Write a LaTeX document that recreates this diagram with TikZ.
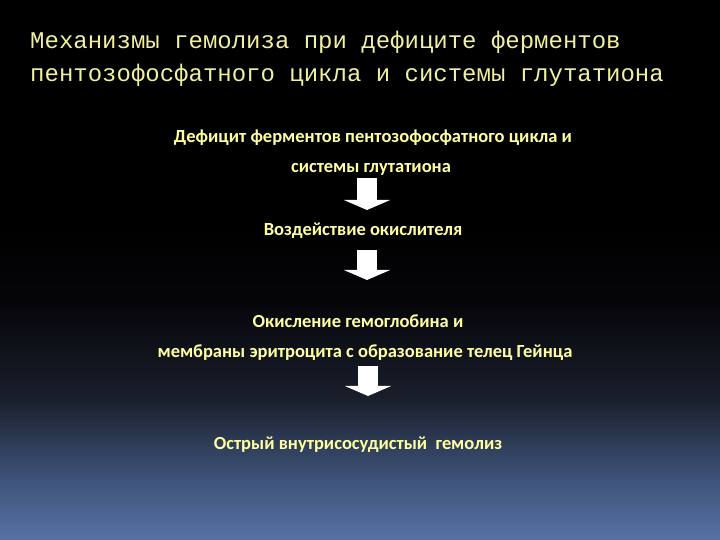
\documentclass[tikz,border=0pt]{standalone}
\usepackage{fontspec}
\setmainfont{Carlito}
\newfontfamily\titlefont{Liberation Mono}
\usetikzlibrary{arrows.meta}
\definecolor{bgbot}{RGB}{86,113,163}
\definecolor{bgq}{RGB}{58,78,114}
\definecolor{bgm}{RGB}{26,31,44}
\definecolor{bgd}{RGB}{6,6,10}
\definecolor{titlecol}{RGB}{240,240,160}
\definecolor{txtcol}{RGB}{255,255,160}
\pgfdeclareverticalshading{bgshade}{100bp}{color(0bp)=(bgbot); color(25bp)=(bgbot); color(31.5bp)=(bgq); color(38bp)=(bgm); color(47bp)=(bgd); color(54bp)=(black); color(100bp)=(black)}
\tikzset{
  titletxt/.style={anchor=base west, inner sep=0pt, text=titlecol, font=\titlefont\fontsize{24}{28}\selectfont},
  bodytxt/.style={anchor=base, inner sep=0pt, text=txtcol, font=\bfseries\fontsize{18.5}{22}\selectfont},
  blockarrow/.style={draw=white, line width=20pt, -{Triangle[length=10pt,width=46pt]}}
}
\begin{document}
\begin{tikzpicture}[x=1pt,y=1pt]
\useasboundingbox (0,0) rectangle (720,540);
\shade[shading=bgshade] (0,0) rectangle (720,540);
\node[titletxt] (t1) at (30,491) {Механизмы гемолиза при дефиците ферментов};
\node[titletxt] (t2) at (30,458) {пентозофосфатного цикла и системы глутатиона};
\node[bodytxt] (b1) at (373,397) {Дефицит ферментов пентозофосфатного цикла и};
\node[bodytxt] (b2) at (371,367) {системы глутатиона};
\node[bodytxt] (b3) at (363,304) {Воздействие окислителя};
\node[bodytxt] (b4) at (358,212) {Окисление гемоглобина и};
\node[bodytxt] (b5) at (365,182) {мембраны эритроцита с образование телец Гейнца};
\node[bodytxt] (b6) at (358,90) {Острый внутрисосудистый\ \ гемолиз};
\coordinate (a1s) at (367,362);
\coordinate (a1e) at (367,330);
\coordinate (a2s) at (367,290);
\coordinate (a2e) at (367,260);
\coordinate (a3s) at (368,174);
\coordinate (a3e) at (368,144);
\draw[blockarrow] (a1s) -- (a1e);
\draw[blockarrow] (a2s) -- (a2e);
\draw[blockarrow] (a3s) -- (a3e);
\end{tikzpicture}
\end{document}
